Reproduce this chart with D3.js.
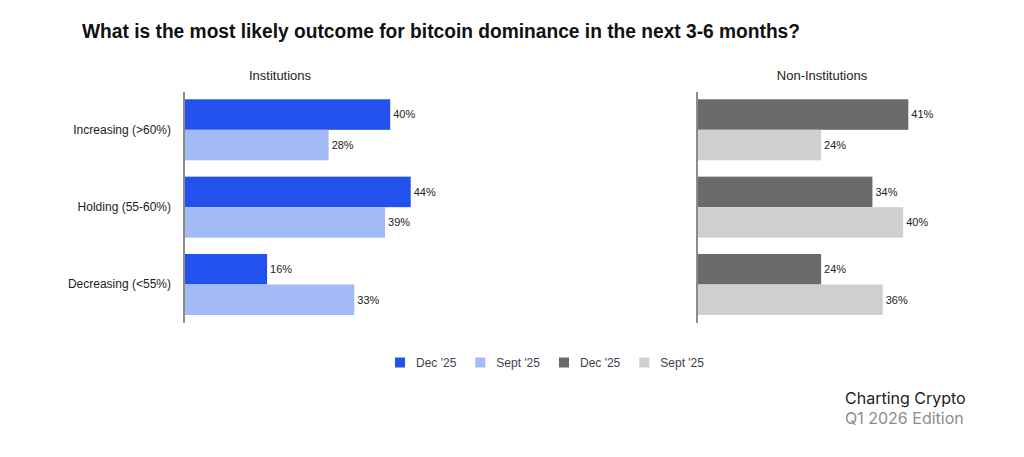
<!DOCTYPE html>
<html>
<head>
<meta charset="utf-8">
<script src="https://cdn.jsdelivr.net/npm/d3@7"></script>
<style>
  body { margin: 0; background: #ffffff; }
  svg { display: block; }
</style>
</head>
<body>
<svg></svg>
<script>
// data
let categories = ["Increasing (>60%)", "Holding (55-60%)", "Decreasing (<55%)"]
let periods = ["Dec '25", "Sept '25"]
let instDec = [40, 44, 16]
let instSept = [28, 39, 33]
let nonInstDec = [41, 34, 24]
let nonInstSept = [24, 40, 36]
let panelTitles = ["Institutions", "Non-Institutions"]
let legendLabels = ["Dec '25", "Sept '25", "Dec '25", "Sept '25"]

// canvas
let width = 1024
let height = 457
let svg = d3.select("svg")
let drawCanvas = function() {
  svg.attr("width", width)
  svg.attr("height", height)
}

let font = "'Liberation Sans', Arial, sans-serif"

// category and sub-band scales shared by both panels
let yScale = d3.scaleBand()
               .domain(categories)
               .range([99.3, 315])
               .paddingInner(0.211)
               .paddingOuter(0)

let subScale = d3.scaleBand()
                 .domain(periods)
                 .range([0, yScale.bandwidth()])

let panels = [
  { title: panelTitles[0], left: 185, titleX: 280, colors: ["#2251ee", "#a3bbf5"], series: [instDec, instSept], labels: true },
  { title: panelTitles[1], left: 698, titleX: 822, colors: ["#6a6a6a", "#cfcfcf"], series: [nonInstDec, nonInstSept], labels: false }
]

let drawTitle = function() {
  svg.append("text")
     .attr("x", 82)
     .attr("y", 37.5)
     .attr("textLength", 718)
     .attr("lengthAdjust", "spacingAndGlyphs")
     .style("font-family", font)
     .style("font-size", "20px")
     .style("font-weight", "bold")
     .style("fill", "#111")
     .text("What is the most likely outcome for bitcoin dominance in the next 3-6 months?")
}

let drawPanel = function(panel) {
  let xScale = d3.scaleLinear()
                 .domain([0, 100])
                 .range([panel.left, panel.left + 513])

  let g = svg.append("g")

  // panel heading
  g.append("text")
   .attr("x", panel.titleX)
   .attr("y", 79.5)
   .style("text-anchor", "middle")
   .style("font-family", font)
   .style("font-size", "13px")
   .style("fill", "#222")
   .text(panel.title)

  // flatten rows so each bar has its own datum
  let rows = []
  categories.forEach(function(cat, i) {
    periods.forEach(function(p, j) {
      rows.push({ cat: cat, period: p, value: panel.series[j][i], color: panel.colors[j] })
    })
  })

  g.selectAll("rect.bar")
   .data(rows)
   .enter()
   .append("rect")
   .attr("class", "bar")
   .attr("x", xScale(0))
   .attr("y", (d) => yScale(d.cat) + subScale(d.period))
   .attr("width", (d) => xScale(d.value) - xScale(0))
   .attr("height", subScale.bandwidth())
   .style("fill", (d) => d.color)

  g.selectAll("text.val")
   .data(rows)
   .enter()
   .append("text")
   .attr("class", "val")
   .attr("x", (d) => xScale(d.value) + 3)
   .attr("y", (d) => yScale(d.cat) + subScale(d.period) + subScale.bandwidth() / 2)
   .attr("dy", "0.35em")
   .style("font-family", font)
   .style("font-size", "11px")
   .style("fill", "#222")
   .text((d) => d.value + "%")

  // vertical axis line, no ticks
  let yAxis = d3.axisLeft(yScale).tickSize(0).tickPadding(13)
  let axisG = g.append("g")
               .attr("transform", "translate(" + (xScale(0) - 1) + ",0)")
               .call(yAxis)
  axisG.select(".domain").remove()
  axisG.append("line")
       .attr("x1", 0).attr("x2", 0)
       .attr("y1", 92).attr("y2", 323)
       .style("stroke", "#8c8c8c")
       .style("stroke-width", 2)
  axisG.selectAll(".tick text")
       .style("font-family", font)
       .style("font-size", "12px")
       .style("fill", "#222")
       .style("opacity", panel.labels ? 1 : 0)
}

let drawLegend = function() {
  let colors = [panels[0].colors[0], panels[0].colors[1], panels[1].colors[0], panels[1].colors[1]]
  let legend = svg.append("g").attr("id", "legend")
  let x = 395
  legendLabels.forEach(function(label, i) {
    legend.append("rect")
          .attr("x", x)
          .attr("y", 357.5)
          .attr("width", 10)
          .attr("height", 10)
          .style("fill", colors[i])
    let t = legend.append("text")
                  .attr("x", x + 21)
                  .attr("y", 367)
                  .style("font-family", font)
                  .style("font-size", "12px")
                  .style("fill", "#3d4250")
                  .text(label)
    x = x + 21 + t.node().getComputedTextLength() + 19
  })
}

let drawFooter = function() {
  svg.append("text")
     .attr("x", 845)
     .attr("y", 403.5)
     .style("font-family", "Inter, 'Open Sans', sans-serif")
     .style("font-size", "16px")
     .style("fill", "#222")
     .text("Charting Crypto")
  svg.append("text")
     .attr("x", 845)
     .attr("y", 424)
     .style("font-family", "Inter, 'Open Sans', sans-serif")
     .style("font-size", "16px")
     .style("fill", "#8c8c8c")
     .text("Q1 2026 Edition")
}

drawCanvas()
drawTitle()
panels.forEach(drawPanel)
drawLegend()
drawFooter()
</script>
</body>
</html>
